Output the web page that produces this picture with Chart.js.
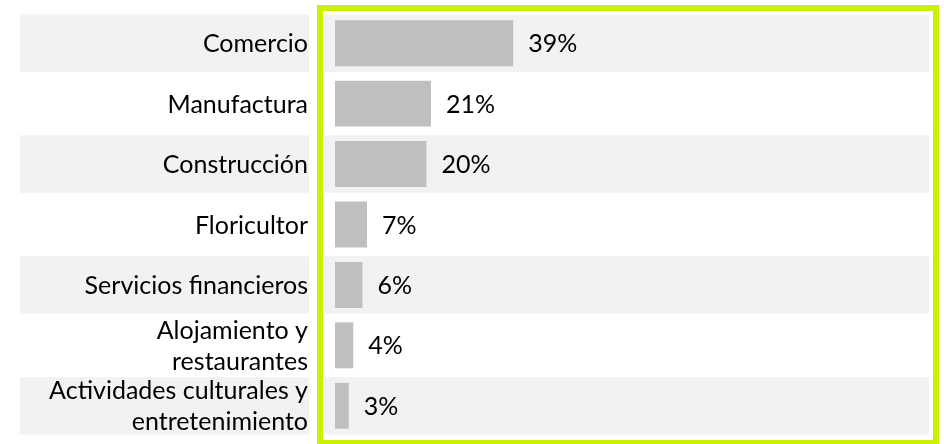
<!DOCTYPE html>
<html>
<head>
<meta charset="utf-8">
<script src="https://cdn.jsdelivr.net/npm/chart.js@4/dist/chart.umd.min.js"></script>
<style>
  html, body { margin: 0; padding: 0; background: #ffffff; }
  #wrap { width: 944px; height: 444px; }
</style>
</head>
<body>
<div id="wrap"><canvas id="graficoSectores" width="944" height="444"></canvas></div>
<script>
const sectores = [
  "Comercio",
  "Manufactura",
  "Construcción",
  "Floricultor",
  "Servicios financieros",
  ["Alojamiento y", "restaurantes"],
  ["Actividades culturales y", "entretenimiento"],
];
const porcentajes = [39, 21, 20, 7, 6, 4, 3];

const familia = "Lato, 'Noto Sans', sans-serif";
const tamano = 25;
const interlineado = 31;

// franjas grises alternas y nombres de sector a la izquierda
const filas = {
  id: "filas",
  beforeDatasetsDraw(chart) {
    const { ctx, chartArea, scales } = chart;
    const y = scales.y;
    const paso = (chartArea.bottom - chartArea.top) / sectores.length;
    ctx.save();
    ctx.fillStyle = "#f2f2f2";
    sectores.forEach((s, i) => {
      if (i % 2 !== 0) return;
      const c = y.getPixelForValue(i);
      const alto = paso - 3;
      ctx.fillRect(20, c - alto / 2, 289, alto);
      ctx.fillRect(chartArea.left - 10, c - alto / 2, chartArea.right - chartArea.left + 10, alto);
    });
    ctx.font = tamano + "px " + familia;
    ctx.fillStyle = "#000000";
    ctx.textAlign = "right";
    ctx.textBaseline = "middle";
    sectores.forEach((s, i) => {
      const lineas = Array.isArray(s) ? s : [s];
      const c = y.getPixelForValue(i);
      const inicio = c - ((lineas.length - 1) * interlineado) / 2;
      lineas.forEach((t, j) => ctx.fillText(t, 308, inicio + j * interlineado + 1));
    });
    ctx.restore();
  },
};

// valores al final de cada barra + marco verde
const etiquetas = {
  id: "etiquetas",
  afterDatasetsDraw(chart) {
    const { ctx, chartArea } = chart;
    const meta = chart.getDatasetMeta(0);
    ctx.save();
    ctx.font = tamano + "px " + familia;
    ctx.fillStyle = "#000000";
    ctx.textAlign = "left";
    ctx.textBaseline = "middle";
    meta.data.forEach((bar, i) => {
      ctx.fillText(porcentajes[i] + "%", bar.x + 15, bar.y + 1);
    });
    ctx.strokeStyle = "#ccf000";
    ctx.lineWidth = 6;
    ctx.strokeRect(chartArea.left - 15, chartArea.top - 5,
      chartArea.right - chartArea.left + 22, chartArea.bottom - chartArea.top + 12);
    ctx.restore();
  },
};

const ctx = document.getElementById("graficoSectores").getContext("2d");
new Chart(ctx, {
  type: "bar",
  data: {
    labels: sectores,
    datasets: [
      {
        label: "Participación por sector",
        data: porcentajes,
        backgroundColor: "#bfbfbf",
        barPercentage: 0.76,
        categoryPercentage: 1,
      },
    ],
  },
  options: {
    indexAxis: "y",
    responsive: false,
    animation: false,
    layout: { padding: { top: 13, bottom: 8, right: 15, left: 0 } },
    plugins: { legend: { display: false }, tooltip: { enabled: false } },
    scales: {
      x: { display: false, min: 0, max: 130 },
      y: {
        grid: { display: false, drawTicks: false },
        border: { display: false },
        ticks: { display: false },
        afterFit(scale) { scale.width = 335; },
      },
    },
  },
  plugins: [filas, etiquetas],
});
</script>
</body>
</html>
